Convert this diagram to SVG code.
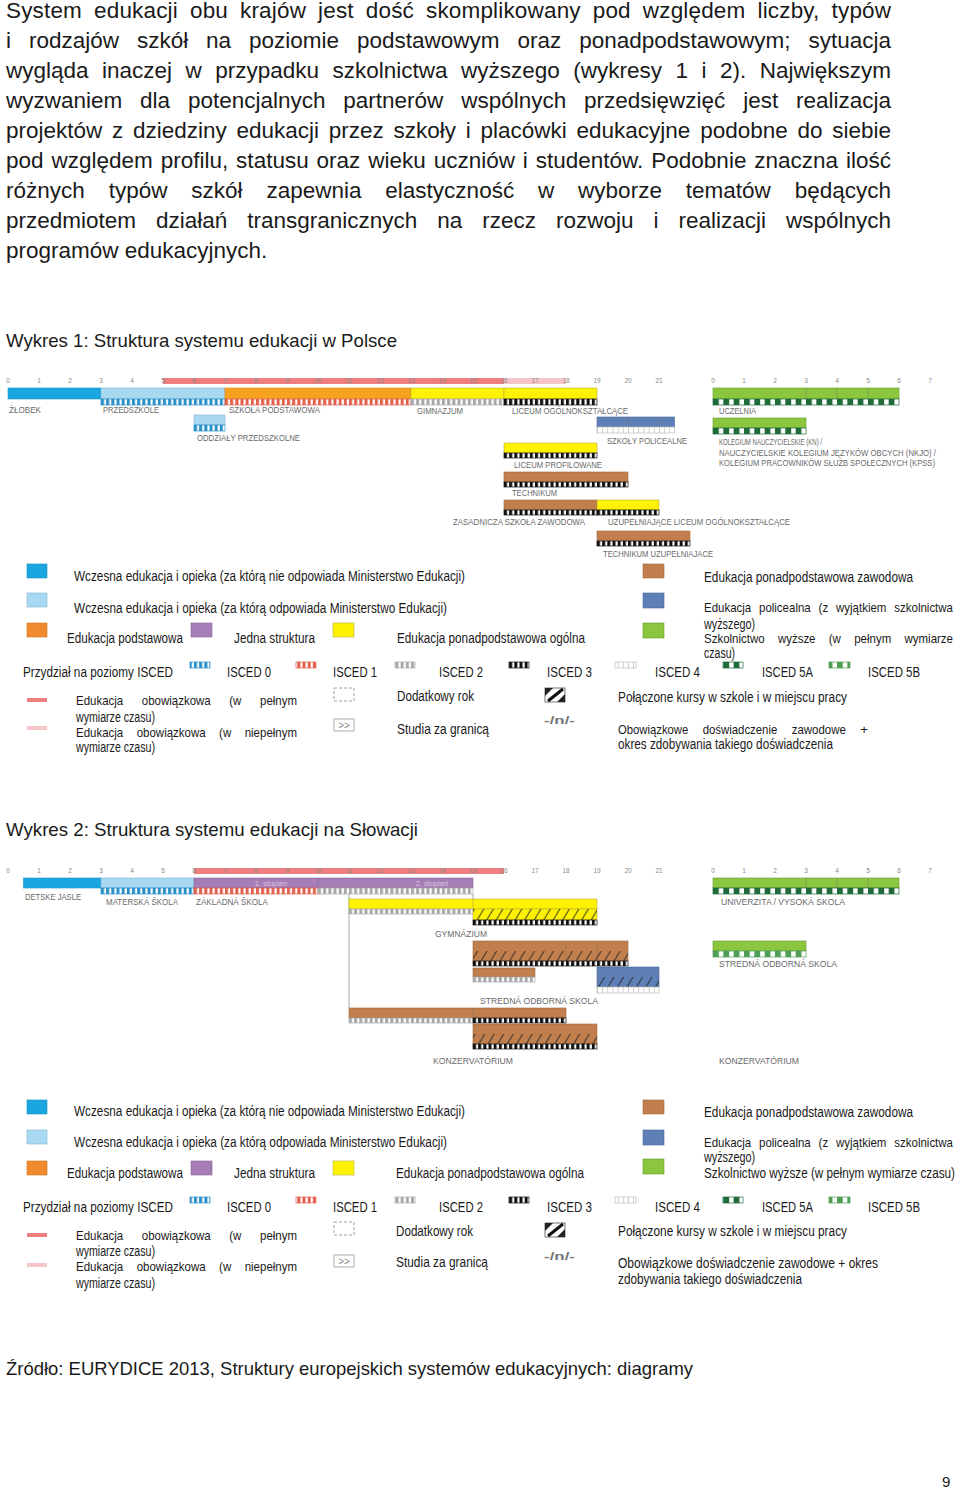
<svg xmlns="http://www.w3.org/2000/svg" width="960" height="1489" viewBox="0 0 960 1489">
<style>
.p{font-family:"Liberation Sans",Arial,sans-serif;font-size:22.5px;fill:#1a1a1a}
.h{font-family:"Liberation Sans",Arial,sans-serif;font-size:18.6px;fill:#1a1a1a}
.lg{font-family:"Liberation Sans Narrow","Liberation Sans",Arial,sans-serif;font-size:14px;fill:#1a1a1a}
.lw{font-family:"Liberation Sans Narrow","Liberation Sans",Arial,sans-serif;font-size:13.2px;fill:#1a1a1a}
.cl{font-family:"Liberation Sans Narrow","Liberation Sans",Arial,sans-serif;font-size:8.5px;fill:#6a6a6a}
.ax{font-family:"Liberation Sans",Arial,sans-serif;font-size:6.5px;fill:#8a8a8a;text-anchor:middle}
.st{font-family:"Liberation Sans",Arial,sans-serif;font-size:7.5px;fill:#d8c6de;text-anchor:middle}
.blue{fill:#1aa7e0;stroke:#1590c4;stroke-width:.6}
.lblue{fill:#a9d8f1;stroke:#7fb6d6;stroke-width:.6}
.orange{fill:#f6a21e;stroke:#d98a10;stroke-width:.6}
.lorange{fill:#ef8a2f;stroke:#cf7020;stroke-width:.6}
.purple{fill:#a77db7;stroke:#8a649b;stroke-width:.6}
.yellow{fill:#fef200;stroke:#b9b040;stroke-width:.6}
.brown{fill:#c27f4e;stroke:#a06638;stroke-width:.6}
.bgray{fill:#5f80b6;stroke:#44669c;stroke-width:.6}
.green{fill:#8cc63f;stroke:#5f9a2a;stroke-width:.6}
.red{fill:#ef7f7f}
.pink{fill:#f6c5c9}
.hat{fill:url(#ht)}
.dv{stroke:#6b6b6b;stroke-width:.6;opacity:.6}
.s0{fill:url(#p0);stroke:#2a90c8;stroke-width:.7}
.s1{fill:url(#p1);stroke:#e2604c;stroke-width:.7}
.s2{fill:url(#p2);stroke:#a8a8a8;stroke-width:.7}
.s3{fill:url(#p3);stroke:#111;stroke-width:.7}
.s4{fill:url(#p4);stroke:#bdbdbd;stroke-width:.7}
.s5a{fill:url(#p5a);stroke:#1f6b3a;stroke-width:.7}
.s5b{fill:url(#p5b);stroke:#4f9d57;stroke-width:.7}
.conn{stroke:#c4c4c4;stroke-width:1.5;fill:none}
</style>
<defs>
<pattern id="p0" patternUnits="userSpaceOnUse" x="8" y="0" width="5.1667" height="20"><rect width="5.1667" height="20" fill="#fff"/><rect width="3" height="20" fill="#2a90c8"/></pattern>
<pattern id="p1" patternUnits="userSpaceOnUse" x="8" y="0" width="5.1667" height="20"><rect width="5.1667" height="20" fill="#fff"/><rect width="3" height="20" fill="#e2604c"/></pattern>
<pattern id="p2" patternUnits="userSpaceOnUse" x="8" y="0" width="5.1667" height="20"><rect width="5.1667" height="20" fill="#fff"/><rect width="3" height="20" fill="#a8a8a8"/></pattern>
<pattern id="p3" patternUnits="userSpaceOnUse" x="8" y="0" width="5.1667" height="20"><rect width="5.1667" height="20" fill="#fff"/><rect width="3" height="20" fill="#111"/></pattern>
<pattern id="p4" patternUnits="userSpaceOnUse" x="8" y="0" width="5.1667" height="20"><rect width="5.1667" height="20" fill="#fff"/><rect width=".8" height="20" fill="#c4c4c4"/></pattern>
<pattern id="p5a" patternUnits="userSpaceOnUse" x="713" y="0" width="10.333" height="20"><rect width="10.333" height="20" fill="#fff"/><rect width="5.8" height="20" fill="#1f6b3a"/></pattern>
<pattern id="p5b" patternUnits="userSpaceOnUse" x="713" y="0" width="10.333" height="20"><rect width="10.333" height="20" fill="#fff"/><rect width="5.8" height="20" fill="#4f9d57"/></pattern>
<pattern id="ht" patternUnits="userSpaceOnUse" width="9.5" height="10" patternTransform="skewX(-31)"><line x1="4" y1="-1" x2="4" y2="11" stroke="#222" stroke-width="1"/></pattern>
</defs>

<g id="paragraph">
<text class="p" x="6" y="18" word-spacing="5.6" textLength="885" lengthAdjust="spacing">System edukacji obu krajów jest dość skomplikowany pod względem liczby, typów</text>
<text class="p" x="6" y="48" word-spacing="11.7" textLength="885" lengthAdjust="spacing">i rodzajów szkół na poziomie podstawowym oraz ponadpodstawowym; sytuacja</text>
<text class="p" x="6" y="78" word-spacing="7.2" textLength="885" lengthAdjust="spacing">wygląda inaczej w przypadku szkolnictwa wyższego (wykresy 1 i 2). Największym</text>
<text class="p" x="6" y="108" word-spacing="11.6" textLength="885" lengthAdjust="spacing">wyzwaniem dla potencjalnych partnerów wspólnych przedsięwzięć jest realizacja</text>
<text class="p" x="6" y="138" word-spacing="3.5" textLength="885" lengthAdjust="spacing">projektów z dziedziny edukacji przez szkoły i placówki edukacyjne podobne do siebie</text>
<text class="p" x="6" y="168" word-spacing="1.6" textLength="885" lengthAdjust="spacing">pod względem profilu, statusu oraz wieku uczniów i studentów. Podobnie znaczna ilość</text>
<text class="p" x="6" y="198" word-spacing="17.6" textLength="885" lengthAdjust="spacing">różnych typów szkół zapewnia elastyczność w wyborze tematów będących</text>
<text class="p" x="6" y="228" word-spacing="13.7" textLength="885" lengthAdjust="spacing">przedmiotem działań transgranicznych na rzecz rozwoju i realizacji wspólnych</text>
<text class="p" x="6" y="258">programów edukacyjnych.</text>
</g>

<text id="title1" class="h" x="6" y="347" textLength="391" lengthAdjust="spacingAndGlyphs">Wykres 1: Struktura systemu edukacji w Polsce</text>

<!-- ===== Chart 1 (Poland) ===== -->
<g id="pl-axis">
<rect class="red" x="163" y="378" width="341" height="6"/>
<rect class="pink" x="504" y="378" width="62" height="6"/>
<text class="ax" x="8" y="383">0</text><text class="ax" x="39" y="383">1</text><text class="ax" x="70" y="383">2</text><text class="ax" x="101" y="383">3</text><text class="ax" x="132" y="383">4</text><text class="ax" x="163" y="383">5</text><text class="ax" x="194" y="383">6</text><text class="ax" x="225" y="383">7</text><text class="ax" x="256" y="383">8</text><text class="ax" x="287" y="383">9</text><text class="ax" x="318" y="383">10</text><text class="ax" x="349" y="383">11</text><text class="ax" x="380" y="383">12</text><text class="ax" x="411" y="383">13</text><text class="ax" x="442" y="383">14</text><text class="ax" x="473" y="383">15</text><text class="ax" x="504" y="383">16</text><text class="ax" x="535" y="383">17</text><text class="ax" x="566" y="383">18</text><text class="ax" x="597" y="383">19</text><text class="ax" x="628" y="383">20</text><text class="ax" x="659" y="383">21</text>
<text class="ax" x="713" y="383">0</text><text class="ax" x="744" y="383">1</text><text class="ax" x="775" y="383">2</text><text class="ax" x="806" y="383">3</text><text class="ax" x="837" y="383">4</text><text class="ax" x="868" y="383">5</text><text class="ax" x="899" y="383">6</text><text class="ax" x="930" y="383">7</text>
</g>
<g id="pl-zlobek"><rect class="blue" x="8" y="388" width="93" height="11"/><text class="cl" x="9" y="413" textLength="32" lengthAdjust="spacingAndGlyphs">ŻŁOBEK</text></g>
<g id="pl-przedszkole"><rect class="lblue" x="101" y="388" width="124" height="11"/><rect class="s0" x="101" y="399" width="124" height="6"/><text class="cl" x="103" y="413" textLength="56" lengthAdjust="spacingAndGlyphs">PRZEDSZKOLE</text></g>
<g id="pl-szkola-podstawowa"><rect class="orange" x="225" y="388" width="186" height="11"/><rect class="s1" x="225" y="399" width="186" height="6"/><text class="cl" x="229" y="413" textLength="91" lengthAdjust="spacingAndGlyphs">SZKOŁA PODSTAWOWA</text></g>
<g id="pl-gimnazjum"><rect class="yellow" x="411" y="388" width="93" height="11"/><rect class="s2" x="411" y="399" width="93" height="6"/><text class="cl" x="417" y="414" textLength="46" lengthAdjust="spacingAndGlyphs">GIMNAZJUM</text></g>
<g id="pl-liceum"><rect class="yellow" x="504" y="388" width="93" height="11"/><rect class="s3" x="504" y="399" width="93" height="6"/><text class="cl" x="512" y="414" textLength="116" lengthAdjust="spacingAndGlyphs">LICEUM OGÓLNOKSZTAŁCĄCE</text></g>
<g id="pl-oddzialy"><rect class="lblue" x="194" y="415" width="31" height="10"/><rect class="s0" x="194" y="425" width="31" height="6"/><text class="cl" x="197" y="441" textLength="103" lengthAdjust="spacingAndGlyphs">ODDZIAŁY PRZEDSZKOLNE</text></g>
<g id="pl-policealne"><rect class="bgray" x="597" y="417" width="77.5" height="10"/><line class="dv" x1="628" y1="417" x2="628" y2="427"/><line class="dv" x1="659" y1="417" x2="659" y2="427"/><rect class="s4" x="597" y="427" width="77.5" height="6"/><text class="cl" x="607" y="444" textLength="80" lengthAdjust="spacingAndGlyphs">SZKOŁY POLICEALNE</text></g>
<g id="pl-uczelnia"><rect class="green" x="713" y="388" width="186" height="11"/><line class="dv" x1="806" y1="388" x2="806" y2="399"/><line class="dv" x1="837" y1="388" x2="837" y2="399"/><line class="dv" x1="868" y1="388" x2="868" y2="399"/><rect class="s5a" x="713" y="399" width="186" height="6"/><text class="cl" x="719" y="414" textLength="37" lengthAdjust="spacingAndGlyphs">UCZELNIA</text></g>
<g id="pl-kolegium"><rect class="green" x="713" y="418" width="93" height="10"/><rect class="s5a" x="713" y="428" width="93" height="6"/>
<text class="cl" x="719" y="445" textLength="103" lengthAdjust="spacingAndGlyphs">KOLEGIUM NAUCZYCIELSKIE (KN) /</text>
<text class="cl" x="719" y="456" textLength="217" lengthAdjust="spacingAndGlyphs">NAUCZYCIELSKIE KOLEGIUM JĘZYKÓW OBCYCH (NKJO) /</text>
<text class="cl" x="719" y="466" textLength="216" lengthAdjust="spacingAndGlyphs">KOLEGIUM PRACOWNIKÓW SŁUŻB SPOŁECZNYCH (KPSS)</text></g>
<g id="pl-liceum-profilowane"><rect class="yellow" x="504" y="443" width="93" height="10"/><rect class="s3" x="504" y="453" width="93" height="5"/><text class="cl" x="514" y="468" textLength="88" lengthAdjust="spacingAndGlyphs">LICEUM PROFILOWANE</text></g>
<g id="pl-technikum"><rect class="brown" x="504" y="472" width="124" height="10"/><rect class="s3" x="504" y="482" width="124" height="5"/><text class="cl" x="512" y="496" textLength="45" lengthAdjust="spacingAndGlyphs">TECHNIKUM</text></g>
<g id="pl-zsz"><rect class="brown" x="504" y="500" width="93" height="10"/><rect class="s3" x="504" y="510" width="93" height="5"/><text class="cl" x="453" y="525" textLength="132" lengthAdjust="spacingAndGlyphs">ZASADNICZA SZKOŁA ZAWODOWA</text></g>
<g id="pl-uzup-liceum"><rect class="yellow" x="597" y="500" width="62" height="10"/><rect class="s3" x="597" y="510" width="62" height="5"/><text class="cl" x="608" y="525" textLength="182" lengthAdjust="spacingAndGlyphs">UZUPEŁNIAJĄCE LICEUM OGÓLNOKSZTAŁCĄCE</text></g>
<g id="pl-technikum-uzup"><rect class="brown" x="597" y="531" width="93" height="10"/><rect class="s3" x="597" y="541" width="93" height="5"/><text class="cl" x="603" y="557" textLength="110" lengthAdjust="spacingAndGlyphs">TECHNIKUM UZUPEŁNIAJACE</text></g>

<!-- ===== Legend 1 ===== -->
<g id="legend1">
<rect class="blue" x="27" y="564" width="20" height="14"/>
<text class="lg" x="74" y="581" textLength="391" lengthAdjust="spacingAndGlyphs">Wczesna edukacja i opieka (za którą nie odpowiada Ministerstwo Edukacji)</text>
<rect class="lblue" x="27" y="593" width="20" height="14"/>
<text class="lg" x="74" y="613" textLength="373" lengthAdjust="spacingAndGlyphs">Wczesna edukacja i opieka (za którą odpowiada Ministerstwo Edukacji)</text>
<rect class="lorange" x="27" y="623" width="20" height="14"/>
<text class="lg" x="67" y="643" textLength="116" lengthAdjust="spacingAndGlyphs">Edukacja podstawowa</text>
<rect class="purple" x="191" y="623" width="21" height="14"/>
<text class="lg" x="234" y="643" textLength="81" lengthAdjust="spacingAndGlyphs">Jedna struktura</text>
<rect class="yellow" x="333" y="623" width="21" height="14"/>
<text class="lg" x="397" y="643" textLength="188" lengthAdjust="spacingAndGlyphs">Edukacja ponadpodstawowa ogólna</text>
<text class="lg" x="23" y="677" textLength="150" lengthAdjust="spacingAndGlyphs">Przydział na poziomy ISCED</text>
<rect class="s0" x="190" y="662" width="20" height="6"/><text class="lg" x="227" y="677" textLength="44" lengthAdjust="spacingAndGlyphs">ISCED 0</text>
<rect class="s1" x="296" y="662" width="20" height="6"/><text class="lg" x="333" y="677" textLength="44" lengthAdjust="spacingAndGlyphs">ISCED 1</text>
<rect class="s2" x="395" y="662" width="20" height="6"/><text class="lg" x="439" y="677" textLength="44" lengthAdjust="spacingAndGlyphs">ISCED 2</text>
<rect class="s3" x="509" y="662" width="20" height="6"/><text class="lg" x="547" y="677" textLength="45" lengthAdjust="spacingAndGlyphs">ISCED 3</text>
<rect class="s4" x="615" y="662" width="21" height="6"/><text class="lg" x="655" y="677" textLength="45" lengthAdjust="spacingAndGlyphs">ISCED 4</text>
<rect class="s5a" x="723" y="662" width="20" height="6"/><text class="lg" x="762" y="677" textLength="51" lengthAdjust="spacingAndGlyphs">ISCED 5A</text>
<rect class="s5b" x="829" y="662" width="21" height="6"/><text class="lg" x="868" y="677" textLength="52" lengthAdjust="spacingAndGlyphs">ISCED 5B</text>
<rect class="red" x="27" y="698" width="20" height="4"/>
<text class="lw" x="76" y="705" textLength="47.2" lengthAdjust="spacingAndGlyphs">Edukacja</text>
<text class="lw" x="141.8" y="705" textLength="68.9" lengthAdjust="spacingAndGlyphs">obowiązkowa</text>
<text class="lw" x="229.3" y="705" textLength="12.1" lengthAdjust="spacingAndGlyphs">(w</text>
<text class="lw" x="297" y="705" text-anchor="end" textLength="37" lengthAdjust="spacingAndGlyphs">pełnym</text>
<text class="lg" x="76" y="722" textLength="79" lengthAdjust="spacingAndGlyphs">wymiarze czasu)</text>
<rect class="pink" x="27" y="726" width="20" height="4"/>
<text class="lw" x="76" y="737" textLength="47.2" lengthAdjust="spacingAndGlyphs">Edukacja</text>
<text class="lw" x="136.7" y="737" textLength="68.9" lengthAdjust="spacingAndGlyphs">obowiązkowa</text>
<text class="lw" x="219.1" y="737" textLength="12.1" lengthAdjust="spacingAndGlyphs">(w</text>
<text class="lw" x="297" y="737" text-anchor="end" textLength="52.3" lengthAdjust="spacingAndGlyphs">niepełnym</text>
<text class="lg" x="76" y="752" textLength="79" lengthAdjust="spacingAndGlyphs">wymiarze czasu)</text>
<rect x="334" y="688" width="20" height="13" fill="none" stroke="#888" stroke-width=".8" stroke-dasharray="3 2"/>
<text class="lg" x="397" y="701" textLength="77" lengthAdjust="spacingAndGlyphs">Dodatkowy rok</text>
<rect x="334" y="719" width="20" height="12" fill="#fff" stroke="#999" stroke-width=".8"/>
<text x="344" y="729" font-family="Liberation Sans,Arial,sans-serif" font-size="10" fill="#888" text-anchor="middle">&gt;&gt;</text>
<text class="lg" x="397" y="734" textLength="92" lengthAdjust="spacingAndGlyphs">Studia za granicą</text>
<rect x="545" y="688" width="20" height="14" fill="#fff" stroke="#555" stroke-width=".8"/>
<polygon points="545,688 553,688 545,696" fill="#222"/><polygon points="565,702 557,702 565,694" fill="#222"/>
<line x1="548" y1="701" x2="563" y2="689" stroke="#111" stroke-width="3"/>
<text class="lg" x="618" y="702" textLength="229" lengthAdjust="spacingAndGlyphs">Połączone kursy w szkole i w miejscu pracy</text>
<text x="544" y="724" font-family="Liberation Sans,Arial,sans-serif" font-size="11" font-weight="bold" fill="#777" textLength="31" lengthAdjust="spacingAndGlyphs">-/n/-</text>
<text class="lw" x="618" y="734" textLength="70.3" lengthAdjust="spacingAndGlyphs">Obowiązkowe</text>
<text class="lw" x="702.7" y="734" textLength="74.6" lengthAdjust="spacingAndGlyphs">doświadczenie</text>
<text class="lw" x="791.7" y="734" textLength="54.2" lengthAdjust="spacingAndGlyphs">zawodowe</text>
<text class="lw" x="860.3" y="734">+</text>
<text class="lg" x="618" y="749" textLength="215" lengthAdjust="spacingAndGlyphs">okres zdobywania takiego doświadczenia</text>
<rect class="brown" x="643" y="564" width="21" height="14"/>
<text class="lg" x="704" y="582" textLength="209" lengthAdjust="spacingAndGlyphs">Edukacja ponadpodstawowa zawodowa</text>
<rect class="bgray" x="643" y="593" width="21" height="15"/>
<text class="lw" x="704" y="612" textLength="47.2" lengthAdjust="spacingAndGlyphs">Edukacja</text>
<text class="lw" x="759" y="612" textLength="51.7" lengthAdjust="spacingAndGlyphs">policealna</text>
<text class="lw" x="818.6" y="612" textLength="9.6" lengthAdjust="spacingAndGlyphs">(z</text>
<text class="lw" x="836" y="612" textLength="50.4" lengthAdjust="spacingAndGlyphs">wyjątkiem</text>
<text class="lw" x="953" y="612" text-anchor="end" textLength="58.7" lengthAdjust="spacingAndGlyphs">szkolnictwa</text>
<text class="lg" x="704" y="629" textLength="51" lengthAdjust="spacingAndGlyphs">wyższego)</text>
<rect class="green" x="643" y="623" width="21" height="15"/>
<text class="lw" x="704" y="643" textLength="60.6" lengthAdjust="spacingAndGlyphs">Szkolnictwo</text>
<text class="lw" x="777.9" y="643" textLength="37.6" lengthAdjust="spacingAndGlyphs">wyższe</text>
<text class="lw" x="828.8" y="643" textLength="12.1" lengthAdjust="spacingAndGlyphs">(w</text>
<text class="lw" x="854.2" y="643" textLength="37" lengthAdjust="spacingAndGlyphs">pełnym</text>
<text class="lw" x="953" y="643" text-anchor="end" textLength="48.5" lengthAdjust="spacingAndGlyphs">wymiarze</text>
<text class="lg" x="704" y="658" textLength="31" lengthAdjust="spacingAndGlyphs">czasu)</text>
</g>

<text id="title2" class="h" x="6" y="836" textLength="412" lengthAdjust="spacingAndGlyphs">Wykres 2: Struktura systemu edukacji na Słowacji</text>

<!-- ===== Chart 2 (Slovakia) ===== -->
<g id="sk-axis">
<rect class="red" x="194" y="868" width="310" height="6"/>
<text class="ax" x="8" y="873">0</text><text class="ax" x="39" y="873">1</text><text class="ax" x="70" y="873">2</text><text class="ax" x="101" y="873">3</text><text class="ax" x="132" y="873">4</text><text class="ax" x="163" y="873">5</text><text class="ax" x="194" y="873">6</text><text class="ax" x="225" y="873">7</text><text class="ax" x="256" y="873">8</text><text class="ax" x="287" y="873">9</text><text class="ax" x="318" y="873">10</text><text class="ax" x="349" y="873">11</text><text class="ax" x="380" y="873">12</text><text class="ax" x="411" y="873">13</text><text class="ax" x="442" y="873">14</text><text class="ax" x="473" y="873">15</text><text class="ax" x="504" y="873">16</text><text class="ax" x="535" y="873">17</text><text class="ax" x="566" y="873">18</text><text class="ax" x="597" y="873">19</text><text class="ax" x="628" y="873">20</text><text class="ax" x="659" y="873">21</text>
<text class="ax" x="713" y="873">0</text><text class="ax" x="744" y="873">1</text><text class="ax" x="775" y="873">2</text><text class="ax" x="806" y="873">3</text><text class="ax" x="837" y="873">4</text><text class="ax" x="868" y="873">5</text><text class="ax" x="899" y="873">6</text><text class="ax" x="930" y="873">7</text>
</g>
<g id="sk-connectors">
<line class="conn" x1="349" y1="894" x2="349" y2="1008"/>
<line class="conn" x1="473" y1="894" x2="473" y2="899"/>
</g>
<g id="sk-detske-jasle"><rect class="blue" x="23.5" y="878" width="77.5" height="10"/><text class="cl" x="25" y="900" textLength="56" lengthAdjust="spacingAndGlyphs">DETSKE JASLE</text></g>
<g id="sk-materska"><rect class="lblue" x="101" y="878" width="93" height="10"/><rect class="s0" x="101" y="888" width="93" height="6"/><text class="cl" x="106" y="905" textLength="72" lengthAdjust="spacingAndGlyphs">MATERSKÁ ŠKOLA</text></g>
<g id="sk-zakladna"><rect class="purple" x="194" y="878" width="279" height="10"/><line class="dv" x1="318" y1="878" x2="318" y2="888"/>
<text class="st" x="271" y="886">1. stupień</text><text class="st" x="432" y="886">2. stupień</text>
<rect class="s1" x="194" y="888" width="124" height="6"/><rect class="s2" x="318" y="888" width="155" height="6"/>
<text class="cl" x="196" y="905" textLength="72" lengthAdjust="spacingAndGlyphs">ZÁKLADNÁ ŠKOLA</text></g>
<g id="sk-gymnazium"><rect class="yellow" x="349" y="899" width="248" height="10"/>
<rect class="s2" x="349" y="909" width="124" height="5"/>
<rect class="yellow" x="473" y="909" width="124" height="11"/><rect class="hat" x="473" y="909" width="124" height="11"/>
<rect class="s3" x="473" y="920" width="124" height="5"/>
<line class="dv" x1="473" y1="899" x2="473" y2="909"/>
<text class="cl" x="435" y="937" textLength="52" lengthAdjust="spacingAndGlyphs">GYMNÁZIUM</text></g>
<g id="sk-stredna-odborna">
<rect class="brown" x="473" y="941" width="155" height="20"/><rect class="hat" x="473" y="951" width="155" height="10"/>
<line class="dv" x1="566" y1="941" x2="566" y2="961"/><line class="dv" x1="597" y1="941" x2="597" y2="961"/>
<rect class="s3" x="473" y="961" width="155" height="5"/>
<rect class="brown" x="473" y="968" width="62" height="9"/><rect class="s2" x="473" y="977" width="62" height="5"/>
<rect class="bgray" x="597" y="967" width="62" height="20"/><rect class="hat" x="597" y="977" width="62" height="10"/>
<rect class="s4" x="597" y="987" width="62" height="6"/>
<text class="cl" x="480" y="1004" textLength="118" lengthAdjust="spacingAndGlyphs">STREDNÁ ODBORNÁ SKOLA</text></g>
<g id="sk-konzervatorium">
<rect class="brown" x="349" y="1008" width="217" height="10"/><line class="dv" x1="473" y1="1008" x2="473" y2="1018"/>
<rect class="s2" x="349" y="1018" width="124" height="5"/><rect class="s3" x="473" y="1018" width="93" height="5"/>
<rect class="brown" x="473" y="1024" width="124" height="20"/><rect class="hat" x="473" y="1034" width="124" height="10"/>
<rect class="s3" x="473" y="1044" width="124" height="5"/>
<text class="cl" x="433" y="1064" textLength="80" lengthAdjust="spacingAndGlyphs">KONZERVATÓRIUM</text></g>
<g id="sk-univerzita"><rect class="green" x="713" y="878" width="186" height="10"/><line class="dv" x1="806" y1="878" x2="806" y2="888"/><line class="dv" x1="837" y1="878" x2="837" y2="888"/><line class="dv" x1="868" y1="878" x2="868" y2="888"/><rect class="s5a" x="713" y="888" width="186" height="6"/><text class="cl" x="721" y="905" textLength="124" lengthAdjust="spacingAndGlyphs">UNIVERZITA / VYSOKÁ SKOLA</text></g>
<g id="sk-stredna-odborna-5b"><rect class="green" x="713" y="941" width="93" height="10"/><rect class="s5b" x="713" y="951" width="93" height="6"/><text class="cl" x="719" y="967" textLength="118" lengthAdjust="spacingAndGlyphs">STREDNÁ ODBORNÁ SKOLA</text></g>
<g id="sk-konzervatorium-5b"><text class="cl" x="719" y="1064" textLength="80" lengthAdjust="spacingAndGlyphs">KONZERVATÓRIUM</text></g>

<!-- ===== Legend 2 ===== -->
<g id="legend2">
<rect class="blue" x="27" y="1100" width="20" height="14"/>
<text class="lg" x="74" y="1116" textLength="391" lengthAdjust="spacingAndGlyphs">Wczesna edukacja i opieka (za którą nie odpowiada Ministerstwo Edukacji)</text>
<rect class="lblue" x="27" y="1130" width="20" height="14"/>
<text class="lg" x="74" y="1147" textLength="373" lengthAdjust="spacingAndGlyphs">Wczesna edukacja i opieka (za którą odpowiada Ministerstwo Edukacji)</text>
<rect class="lorange" x="27" y="1161" width="20" height="14"/>
<text class="lg" x="67" y="1178" textLength="116" lengthAdjust="spacingAndGlyphs">Edukacja podstawowa</text>
<rect class="purple" x="191" y="1161" width="21" height="14"/>
<text class="lg" x="234" y="1178" textLength="81" lengthAdjust="spacingAndGlyphs">Jedna struktura</text>
<rect class="yellow" x="333" y="1161" width="21" height="14"/>
<text class="lg" x="396" y="1178" textLength="188" lengthAdjust="spacingAndGlyphs">Edukacja ponadpodstawowa ogólna</text>
<text class="lg" x="23" y="1212" textLength="150" lengthAdjust="spacingAndGlyphs">Przydział na poziomy ISCED</text>
<rect class="s0" x="190" y="1197" width="20" height="6"/><text class="lg" x="227" y="1212" textLength="44" lengthAdjust="spacingAndGlyphs">ISCED 0</text>
<rect class="s1" x="296" y="1197" width="20" height="6"/><text class="lg" x="333" y="1212" textLength="44" lengthAdjust="spacingAndGlyphs">ISCED 1</text>
<rect class="s2" x="395" y="1197" width="20" height="6"/><text class="lg" x="439" y="1212" textLength="44" lengthAdjust="spacingAndGlyphs">ISCED 2</text>
<rect class="s3" x="509" y="1197" width="20" height="6"/><text class="lg" x="547" y="1212" textLength="45" lengthAdjust="spacingAndGlyphs">ISCED 3</text>
<rect class="s4" x="615" y="1197" width="21" height="6"/><text class="lg" x="655" y="1212" textLength="45" lengthAdjust="spacingAndGlyphs">ISCED 4</text>
<rect class="s5a" x="723" y="1197" width="20" height="6"/><text class="lg" x="762" y="1212" textLength="51" lengthAdjust="spacingAndGlyphs">ISCED 5A</text>
<rect class="s5b" x="829" y="1197" width="21" height="6"/><text class="lg" x="868" y="1212" textLength="52" lengthAdjust="spacingAndGlyphs">ISCED 5B</text>
<rect class="red" x="27" y="1233" width="20" height="4"/>
<text class="lw" x="76" y="1240" textLength="47.2" lengthAdjust="spacingAndGlyphs">Edukacja</text>
<text class="lw" x="141.8" y="1240" textLength="68.9" lengthAdjust="spacingAndGlyphs">obowiązkowa</text>
<text class="lw" x="229.3" y="1240" textLength="12.1" lengthAdjust="spacingAndGlyphs">(w</text>
<text class="lw" x="297" y="1240" text-anchor="end" textLength="37" lengthAdjust="spacingAndGlyphs">pełnym</text>
<text class="lg" x="76" y="1256" textLength="79" lengthAdjust="spacingAndGlyphs">wymiarze czasu)</text>
<rect class="pink" x="27" y="1263" width="20" height="4"/>
<text class="lw" x="76" y="1271" textLength="47.2" lengthAdjust="spacingAndGlyphs">Edukacja</text>
<text class="lw" x="136.7" y="1271" textLength="68.9" lengthAdjust="spacingAndGlyphs">obowiązkowa</text>
<text class="lw" x="219.1" y="1271" textLength="12.1" lengthAdjust="spacingAndGlyphs">(w</text>
<text class="lw" x="297" y="1271" text-anchor="end" textLength="52.3" lengthAdjust="spacingAndGlyphs">niepełnym</text>
<text class="lg" x="76" y="1288" textLength="79" lengthAdjust="spacingAndGlyphs">wymiarze czasu)</text>
<rect x="334" y="1222" width="20" height="13" fill="none" stroke="#888" stroke-width=".8" stroke-dasharray="3 2"/>
<text class="lg" x="396" y="1236" textLength="77" lengthAdjust="spacingAndGlyphs">Dodatkowy rok</text>
<rect x="334" y="1255" width="20" height="12" fill="#fff" stroke="#999" stroke-width=".8"/>
<text x="344" y="1265" font-family="Liberation Sans,Arial,sans-serif" font-size="10" fill="#888" text-anchor="middle">&gt;&gt;</text>
<text class="lg" x="396" y="1267" textLength="92" lengthAdjust="spacingAndGlyphs">Studia za granicą</text>
<rect x="545" y="1223" width="20" height="14" fill="#fff" stroke="#555" stroke-width=".8"/>
<polygon points="545,1223 553,1223 545,1231" fill="#222"/><polygon points="565,1237 557,1237 565,1229" fill="#222"/>
<line x1="548" y1="1236" x2="563" y2="1224" stroke="#111" stroke-width="3"/>
<text class="lg" x="618" y="1236" textLength="229" lengthAdjust="spacingAndGlyphs">Połączone kursy w szkole i w miejscu pracy</text>
<text x="544" y="1260" font-family="Liberation Sans,Arial,sans-serif" font-size="11" font-weight="bold" fill="#777" textLength="31" lengthAdjust="spacingAndGlyphs">-/n/-</text>
<text class="lg" x="618" y="1268" textLength="260" lengthAdjust="spacingAndGlyphs">Obowiązkowe doświadczenie zawodowe + okres</text>
<text class="lg" x="618" y="1284" textLength="184" lengthAdjust="spacingAndGlyphs">zdobywania takiego doświadczenia</text>
<rect class="brown" x="643" y="1100" width="21" height="14"/>
<text class="lg" x="704" y="1117" textLength="209" lengthAdjust="spacingAndGlyphs">Edukacja ponadpodstawowa zawodowa</text>
<rect class="bgray" x="643" y="1130" width="21" height="15"/>
<text class="lw" x="704" y="1147" textLength="47.2" lengthAdjust="spacingAndGlyphs">Edukacja</text>
<text class="lw" x="759" y="1147" textLength="51.7" lengthAdjust="spacingAndGlyphs">policealna</text>
<text class="lw" x="818.6" y="1147" textLength="9.6" lengthAdjust="spacingAndGlyphs">(z</text>
<text class="lw" x="836" y="1147" textLength="50.4" lengthAdjust="spacingAndGlyphs">wyjątkiem</text>
<text class="lw" x="953" y="1147" text-anchor="end" textLength="58.7" lengthAdjust="spacingAndGlyphs">szkolnictwa</text>
<text class="lg" x="704" y="1162" textLength="51" lengthAdjust="spacingAndGlyphs">wyższego)</text>
<rect class="green" x="643" y="1159" width="21" height="15"/>
<text class="lg" x="955" y="1178" text-anchor="end" textLength="251" lengthAdjust="spacingAndGlyphs">Szkolnictwo wyższe (w pełnym wymiarze czasu)</text>
</g>

<text id="source" class="h" x="6" y="1375" textLength="687" lengthAdjust="spacingAndGlyphs">Źródło: EURYDICE 2013, Struktury europejskich systemów edukacyjnych: diagramy</text>
<text id="pagenum" x="942" y="1487" font-family="Liberation Sans,Arial,sans-serif" font-size="15" fill="#1a1a1a">9</text>
</svg>
